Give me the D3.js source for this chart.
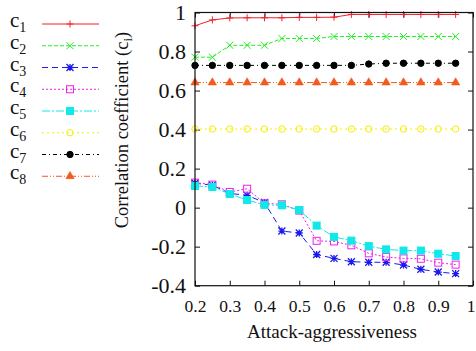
<!DOCTYPE html>
<html>
<head>
<meta charset="utf-8">
<script src="https://cdn.jsdelivr.net/npm/d3@7"></script>
<style>
body { margin: 0; background: white; }
svg { display: block; }
text { font-family: "Liberation Serif", "Times New Roman", serif; fill: #111; }
</style>
</head>
<body>
<script>
let xValues = [0.2, 0.25, 0.3, 0.35, 0.4, 0.45, 0.5, 0.55, 0.6, 0.65, 0.7, 0.75, 0.8, 0.85, 0.9, 0.95]

let c1 = [0.932, 0.962, 0.972, 0.973, 0.973, 0.973, 0.975, 0.975, 0.976, 0.99, 0.99, 0.99, 0.99, 0.99, 0.99, 0.99]
let c2 = [0.771, 0.771, 0.832, 0.832, 0.832, 0.867, 0.867, 0.867, 0.877, 0.877, 0.877, 0.877, 0.877, 0.877, 0.877, 0.877]
let c3 = [0.125, 0.115, 0.073, 0.063, 0.026, -0.12, -0.13, -0.24, -0.26, -0.277, -0.28, -0.28, -0.294, -0.316, -0.33, -0.338]
let c4 = [0.128, 0.118, 0.08, 0.097, 0.022, 0.017, -0.015, -0.17, -0.173, -0.193, -0.234, -0.253, -0.26, -0.262, -0.282, -0.292]
let c5 = [0.111, 0.106, 0.07, 0.039, 0.014, 0.012, -0.012, -0.092, -0.15, -0.169, -0.197, -0.214, -0.22, -0.22, -0.236, -0.248]
let c6 = [0.403, 0.403, 0.403, 0.403, 0.403, 0.403, 0.403, 0.403, 0.403, 0.403, 0.403, 0.403, 0.403, 0.403, 0.403, 0.403]
let c7 = [0.729, 0.729, 0.729, 0.729, 0.729, 0.729, 0.729, 0.729, 0.729, 0.729, 0.736, 0.74, 0.74, 0.74, 0.74, 0.74]
let c8 = [0.641, 0.641, 0.641, 0.641, 0.641, 0.641, 0.641, 0.641, 0.641, 0.641, 0.641, 0.641, 0.641, 0.641, 0.641, 0.641]

let seriesNames = ["1", "2", "3", "4", "5", "6", "7", "8"]
let seriesValues = [c1, c2, c3, c4, c5, c6, c7, c8]

let xTicks = [0.2, 0.3, 0.4, 0.5, 0.6, 0.7, 0.8, 0.9, 1]
let xTickLabels = ["0.2", "0.3", "0.4", "0.5", "0.6", "0.7", "0.8", "0.9", "1"]
let yTicks = [-0.4, -0.2, 0, 0.2, 0.4, 0.6, 0.8, 1]
let yTickLabels = ["-0.4", "-0.2", "0", "0.2", "0.4", "0.6", "0.8", "1"]

// gnuplot-ish look
let styles = [
  {color: "#f0202a", dash: null, mark: "plus"},
  {color: "#22ee22", dash: "4,2", mark: "cross"},
  {color: "#1a1aee", dash: "6,4", mark: "star"},
  {color: "#ee22ee", dash: "2,2", mark: "square"},
  {color: "#11e8e8", dash: "8,2,2,2", mark: "fsquare"},
  {color: "#f4f000", dash: "2,3", mark: "circle"},
  {color: "#000000", dash: "4,3,1,3", mark: "fcircle"},
  {color: "#f25a1e", dash: "6,2,1,2,1,2", mark: "triangle"}
]

let w = 476
let h = 351
let margin = {left: 195, right: 3, top: 12.5, bottom: 65.3}

let svg = d3.select("body").append("svg")
  .attr("width", w)
  .attr("height", h)

let xScale = d3.scaleLinear().domain([0.2, 1]).range([margin.left, w - margin.right])
let yScale = d3.scaleLinear().domain([-0.4, 1]).range([h - margin.bottom, margin.top])

let drawMarker = (g, kind, color) => {
  let s = 3.5
  if (kind === "plus") {
    g.append("path").attr("d", `M${-s},0H${s}M0,${-s}V${s}`).attr("stroke", color).attr("fill", "none")
  } else if (kind === "cross") {
    g.append("path").attr("d", `M${-s},${-s}L${s},${s}M${-s},${s}L${s},${-s}`).attr("stroke", color).attr("fill", "none")
  } else if (kind === "star") {
    g.append("path").attr("d", `M${-s},0H${s}M0,${-s}V${s}M${-s},${-s}L${s},${s}M${-s},${s}L${s},${-s}`).attr("stroke", color).attr("fill", "none").attr("stroke-width", 1.3)
  } else if (kind === "square" || kind === "fsquare") {
    g.append("rect").attr("x", -s).attr("y", -s).attr("width", 2 * s).attr("height", 2 * s)
      .attr("stroke", color).attr("fill", kind === "fsquare" ? color : "none")
  } else if (kind === "circle" || kind === "fcircle") {
    g.append("circle").attr("r", 3.2)
      .attr("stroke", color).attr("fill", kind === "fcircle" ? color : "none")
  } else if (kind === "triangle") {
    g.append("path").attr("d", d3.symbol().type(d3.symbolTriangle).size(30)())
      .attr("stroke", color).attr("fill", color).attr("stroke-width", 0.6)
  }
}

// axes (ticks inward, mirrored like gnuplot)
let tickLen = 5
let xAxis = d3.axisBottom(xScale).tickValues(xTicks).tickSize(-tickLen).tickFormat((d, i) => xTickLabels[i])
svg.append("g")
  .attr("transform", "translate(0," + (h - margin.bottom) + ")")
  .call(xAxis)
  .call(g => g.select(".domain").remove())
  .call(g => g.selectAll("line").attr("stroke", "#111"))
  .call(g => g.selectAll("text").attr("y", 14)
    .style("font-size", "17.5px").style("font-family", "'Liberation Serif', serif"))
  .call(g => g.selectAll("text").filter(d => d === 1).style("text-anchor", "end").attr("x", 2))

svg.append("g")
  .attr("transform", "translate(0," + margin.top + ")")
  .call(d3.axisTop(xScale).tickValues(xTicks).tickSize(-tickLen).tickFormat(""))
  .call(g => g.select(".domain").remove())
  .call(g => g.selectAll("line").attr("stroke", "#111"))

let yAxis = d3.axisLeft(yScale).tickValues(yTicks).tickSize(-tickLen).tickFormat((d, i) => yTickLabels[i])
svg.append("g")
  .attr("transform", "translate(" + margin.left + ",0)")
  .call(yAxis)
  .call(g => g.select(".domain").remove())
  .call(g => g.selectAll("line").attr("stroke", "#111"))
  .call(g => g.selectAll("text").attr("x", -9)
    .style("font-size", "22px").style("font-family", "'Liberation Serif', serif"))

svg.append("g")
  .attr("transform", "translate(" + (w - margin.right) + ",0)")
  .call(d3.axisRight(yScale).tickValues(yTicks).tickSize(-tickLen).tickFormat(""))
  .call(g => g.select(".domain").remove())
  .call(g => g.selectAll("line").attr("stroke", "#111"))

// series
let lineGen = d3.line().x((d, i) => xScale(xValues[i])).y(d => yScale(d))

seriesValues.forEach((vals, k) => {
  let st = styles[k]
  svg.append("path")
    .datum(vals)
    .attr("d", lineGen)
    .attr("fill", "none")
    .attr("stroke", st.color)
    .attr("stroke-width", 1)
    .attr("stroke-dasharray", st.dash)
  vals.forEach((v, i) => {
    let g = svg.append("g").attr("transform", "translate(" + xScale(xValues[i]) + "," + yScale(v) + ")")
    drawMarker(g, st.mark, st.color)
  })
})

// frame
svg.append("rect")
  .attr("x", margin.left)
  .attr("y", margin.top)
  .attr("width", w - margin.left - margin.right)
  .attr("height", h - margin.top - margin.bottom)
  .attr("fill", "none")
  .attr("stroke", "#111")
  .attr("stroke-width", 1.2)

// legend
let legendTop = 24
let legendStep = 21.75
seriesNames.forEach((n, k) => {
  let y = legendTop + k * legendStep
  let st = styles[k]
  let t = svg.append("text").attr("x", 10).attr("y", y + 3).style("font-size", "21px")
  t.append("tspan").text("c")
  t.append("tspan").text(n).style("font-size", "14px").attr("dy", 5)
  svg.append("line")
    .attr("x1", 42).attr("x2", 99).attr("y1", y).attr("y2", y)
    .attr("stroke", st.color)
    .attr("stroke-dasharray", st.dash)
  let g = svg.append("g").attr("transform", "translate(70," + y + ")")
  drawMarker(g, st.mark, st.color)
})

// axis labels
let yl = svg.append("text")
  .attr("transform", "translate(128," + 130 + ") rotate(-90)")
  .attr("text-anchor", "middle")
  .style("font-size", "18.5px")
yl.append("tspan").text("Correlation coefficient (c")
yl.append("tspan").text("i").style("font-size", "13px").attr("dy", 4)
yl.append("tspan").text(")").attr("dy", -4)

svg.append("text")
  .attr("x", 332)
  .attr("y", 338)
  .attr("text-anchor", "middle")
  .style("font-size", "19px")
  .text("Attack-aggressiveness")
</script>
</body>
</html>
